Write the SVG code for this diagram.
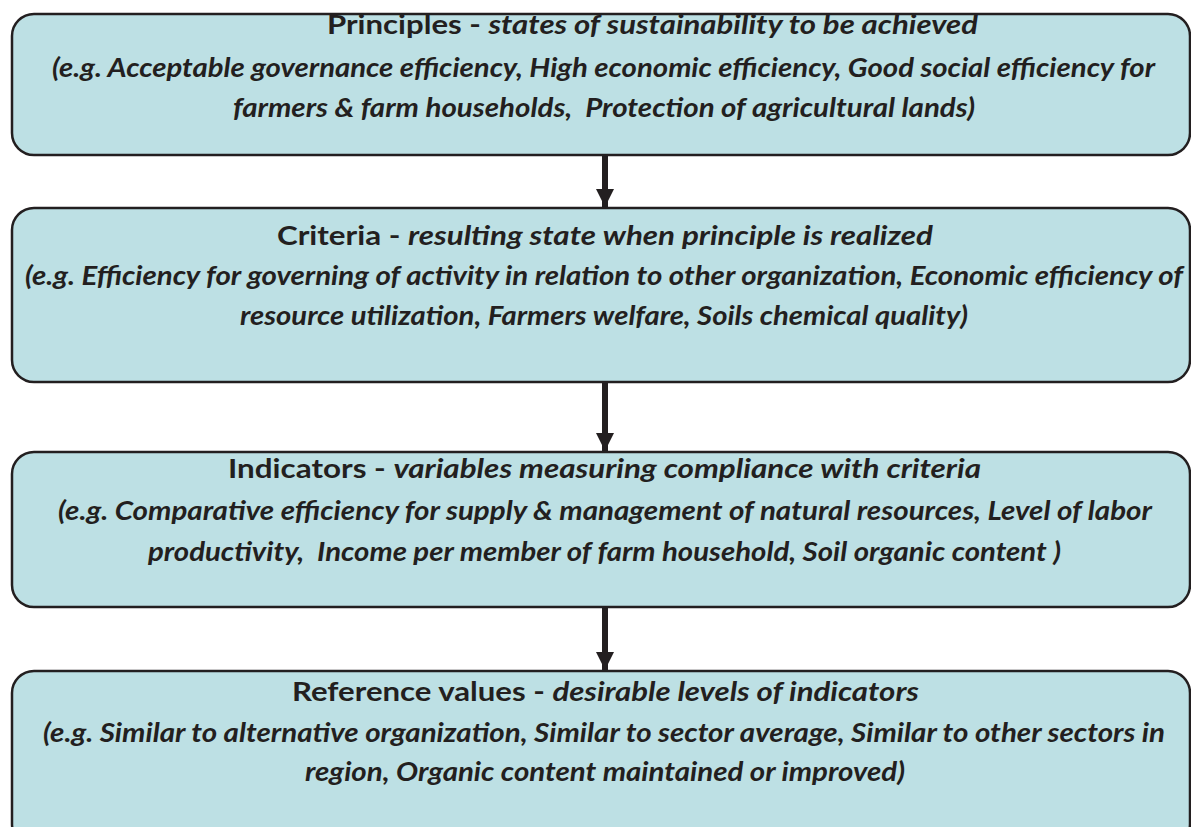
<svg xmlns="http://www.w3.org/2000/svg" width="1191" height="827" viewBox="0 0 1191 827">
<defs>
<style>
.box{fill:#bde0e4;stroke:#231f20;stroke-width:2.5}
text{font-family:Lato,"Open Sans","Liberation Sans",sans-serif;font-size:27px;font-weight:bold;fill:#231f20}
.it{font-style:italic}
.conn{stroke:#231f20;stroke-width:6;fill:none}
</style>
<marker id="ah" markerUnits="userSpaceOnUse" markerWidth="20" markerHeight="20" refX="18" refY="9" orient="auto">
<path d="M0,0 L18,9 L0,18 Z" fill="#231f20"/>
</marker>
</defs>
<rect width="1191" height="827" fill="#ffffff"/>
<g id="connectors">
<line class="conn" x1="605" y1="156" x2="605" y2="207" marker-end="url(#ah)"/>
<line class="conn" x1="605" y1="383" x2="605" y2="451" marker-end="url(#ah)"/>
<line class="conn" x1="605" y1="608" x2="605" y2="670" marker-end="url(#ah)"/>
</g>
<g id="principles">
<rect class="box" x="12" y="14" width="1178" height="141" rx="22"/>
<text x="327" y="34" textLength="651" lengthAdjust="spacingAndGlyphs">Principles - <tspan class="it">states of sustainability to be achieved</tspan></text>
<text class="it" x="52" y="77" textLength="1103" lengthAdjust="spacingAndGlyphs">(e.g. Acceptable governance efficiency, High economic efficiency, Good social efficiency for</text>
<text class="it" x="233" y="117" textLength="742" lengthAdjust="spacingAndGlyphs" xml:space="preserve">farmers &amp; farm households,  Protection of agricultural lands)</text>
</g>
<g id="criteria">
<rect class="box" x="12" y="208" width="1178" height="174" rx="22"/>
<text x="277" y="245" textLength="656" lengthAdjust="spacingAndGlyphs">Criteria - <tspan class="it">resulting state when principle is realized</tspan></text>
<text class="it" x="25" y="285" textLength="1158" lengthAdjust="spacingAndGlyphs">(e.g. Efficiency for governing of activity in relation to other organization, Economic efficiency of</text>
<text class="it" x="240" y="325" textLength="728" lengthAdjust="spacingAndGlyphs">resource utilization, Farmers welfare, Soils chemical quality)</text>
</g>
<g id="indicators">
<rect class="box" x="12" y="452" width="1178" height="155" rx="22"/>
<text x="228" y="478" textLength="753" lengthAdjust="spacingAndGlyphs">Indicators - <tspan class="it">variables measuring compliance with criteria</tspan></text>
<text class="it" x="58" y="520" textLength="1094" lengthAdjust="spacingAndGlyphs">(e.g. Comparative efficiency for supply &amp; management of natural resources, Level of labor</text>
<text class="it" x="148" y="561" textLength="913" lengthAdjust="spacingAndGlyphs" xml:space="preserve">productivity,  Income per member of farm household, Soil organic content )</text>
</g>
<g id="reference-values">
<rect class="box" x="12" y="671" width="1178" height="175" rx="22"/>
<text x="292" y="701" textLength="627" lengthAdjust="spacingAndGlyphs">Reference values - <tspan class="it">desirable levels of indicators</tspan></text>
<text class="it" x="43" y="742" textLength="1122" lengthAdjust="spacingAndGlyphs">(e.g. Similar to alternative organization, Similar to sector average, Similar to other sectors in</text>
<text class="it" x="305" y="781" textLength="600" lengthAdjust="spacingAndGlyphs">region, Organic content maintained or improved)</text>
</g>
</svg>
